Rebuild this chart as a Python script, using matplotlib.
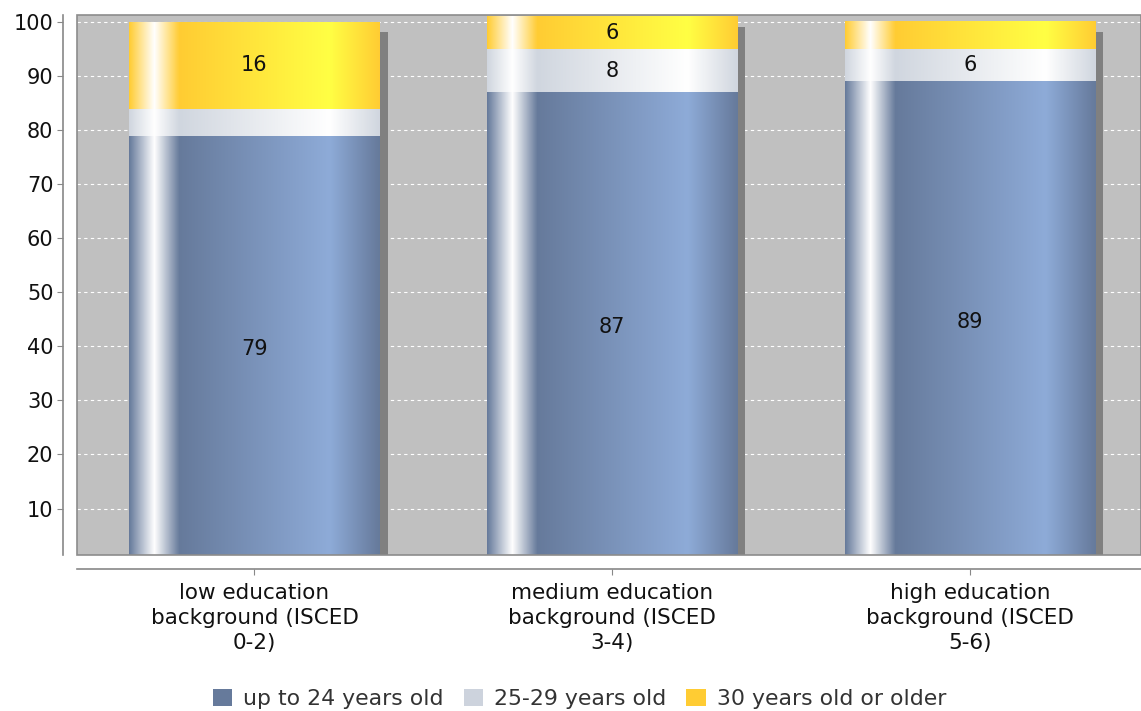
import numpy as np
import matplotlib
matplotlib.use('Agg')
import matplotlib.pyplot as plt
import matplotlib.transforms as mtransforms
from matplotlib.colors import to_rgb
from matplotlib.patches import Rectangle, Patch

categories = ['low education\nbackground (ISCED\n0-2)',
              'medium education\nbackground (ISCED\n3-4)',
              'high education\nbackground (ISCED\n5-6)']
series_names = ['up to 24 years old', '25-29 years old', '30 years old or older']
up_to_24 = [79, 87, 89]
age_25_29 = [5, 8, 6]
age_30_plus = [16, 6, 5]
yticks = [10, 20, 30, 40, 50, 60, 70, 80, 90, 100]

# (dark, light) colour pairs for the shaded bars, plus flat legend colour
shades = [('#667a9b', '#8eabd8'), ('#d0d6df', '#ffffff'), ('#ffcc33', '#ffff44')]
legend_colors = ['#667a9b', '#cdd3dd', '#ffcc33']


def gradient_row(c0, c1, n=300):
    t = np.linspace(0, 1, n)
    stops = [0.0, 0.10, 0.20, 0.80, 1.0]
    cols = [to_rgb(c0), (1, 1, 1), to_rgb(c0), to_rgb(c1), to_rgb(c0)]
    rgb = np.stack([np.interp(t, stops, [c[i] for c in cols]) for i in range(3)], axis=-1)
    return rgb[np.newaxis, :, :]


def main():
    fig = plt.figure(figsize=(11.41, 7.11), dpi=100)
    ax = fig.add_axes([77 / 1141, 1 - 555 / 711, 1 - 77 / 1141, (555 - 15) / 711])
    ax.set_facecolor('#c0c0c0')

    x = np.arange(len(categories))
    width = 0.70
    stack = [up_to_24, age_25_29, age_30_plus]
    totals = np.sum(stack, axis=0)

    # drop shadow behind each bar
    shadow_tr = mtransforms.offset_copy(ax.transData, fig=fig, x=8, y=-10, units='dots')
    for xi, tot in zip(x, totals):
        ax.add_patch(Rectangle((xi - width / 2, 0), width, tot, facecolor='#808080',
                               edgecolor='none', transform=shadow_tr, zorder=1.5))

    bottoms = np.zeros(len(categories))
    for vals, (c0, c1) in zip(stack, shades):
        img = gradient_row(c0, c1)
        for xi, b, v in zip(x, bottoms, vals):
            ax.imshow(img, extent=(xi - width / 2, xi + width / 2, b, b + v),
                      aspect='auto', interpolation='bilinear', zorder=2)
            if v > 5:
                ax.text(xi, b + v / 2, str(v), ha='center', va='center',
                        fontsize=15, color='#111111', zorder=3)
        bottoms += vals

    ax.set_xlim(-0.496, 2.478)
    ax.set_ylim(1.4, 101.3)
    ax.set_aspect('auto')

    ax.yaxis.grid(True, color='white', linestyle=(0, (3, 3)), linewidth=0.8)
    ax.set_axisbelow(True)

    for side in ['top', 'right']:
        ax.spines[side].set_visible(False)
    for side in ['left', 'bottom']:
        ax.spines[side].set_position(('outward', 10))
        ax.spines[side].set_color('#888888')
        ax.spines[side].set_linewidth(1.2)
    ax.add_patch(Rectangle((0, 0), 1, 1, transform=ax.transAxes, fill=False,
                           edgecolor='#8c8c8c', linewidth=1.2, clip_on=False, zorder=4))

    # ticks after the spine moves, which reset the tick objects
    ax.set_yticks(yticks)
    ax.set_xticks(x)
    ax.set_xticklabels(categories)
    ax.tick_params(axis='y', labelsize=15, length=4, color='#888888', pad=3,
                   labelcolor='#111111')
    ax.tick_params(axis='x', labelsize=15.5, length=4, color='#888888', pad=6,
                   labelcolor='#111111')
    for lbl in ax.get_xticklabels():
        lbl.set_linespacing(1.32)

    handles = [Patch(facecolor=c, edgecolor='none') for c in legend_colors]
    fig.legend(handles, series_names, loc='center', bbox_to_anchor=(0.508, 0.017),
               ncol=3, frameon=False, fontsize=15.8, handlelength=0.9, handleheight=0.8,
               handletextpad=0.5, columnspacing=0.9, labelcolor='#333333')

    fig.savefig('out.png', dpi=100)


if __name__ == '__main__':
    main()
